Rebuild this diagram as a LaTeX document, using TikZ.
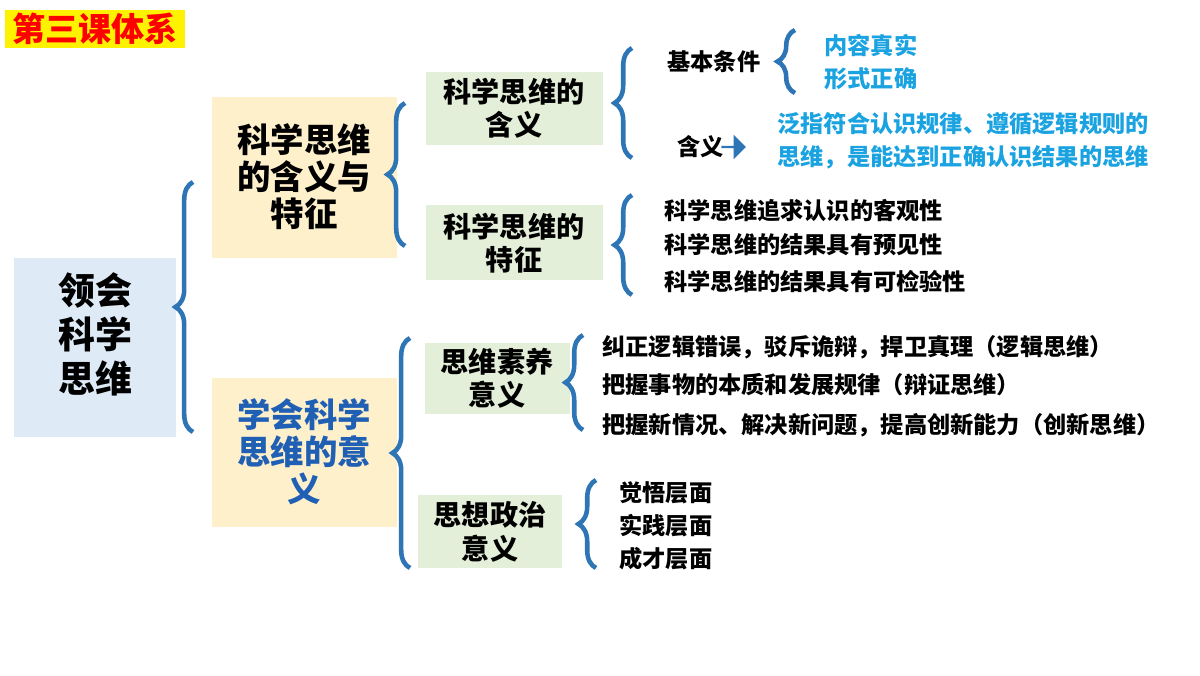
\documentclass[tikz,border=0pt]{standalone}
\usepackage{fontspec}
\setmainfont{Noto Sans CJK SC}
\usetikzlibrary{decorations.pathreplacing, shapes.arrows}
\definecolor{bracec}{HTML}{2E75B6}
\definecolor{cyanc}{HTML}{1AA3E0}
\definecolor{bluec}{HTML}{1F5FB4}
\definecolor{boxa}{HTML}{DEEAF6}
\definecolor{boxb}{HTML}{FDF0CB}
\definecolor{boxc}{HTML}{E4EFDA}
\tikzset{
  brace/.style={draw=bracec, line width=1.3pt, decorate,
    decoration={brace, amplitude=5pt}},
  bigtxt/.style={font=\bfseries\fontsize{10.5}{12.5}\selectfont, align=center},
  midtxt/.style={font=\bfseries\fontsize{9.5}{10.5}\selectfont, align=center},
  boxtxt/.style={font=\bfseries\fontsize{8}{9.5}\selectfont, align=center},
  item/.style={font=\bfseries\fontsize{6.6}{9.4}\selectfont, anchor=west, align=left},
}
\begin{document}
\begin{tikzpicture}[x=0.01cm, y=-0.01cm]
\useasboundingbox (0,0) rectangle (1200,675);
% title
\fill[yellow] (5,10) rectangle (185,48);
\node[font=\bfseries\fontsize{9.4}{10}\selectfont, text=red] (title) at (95,29) {第三课体系};
% boxes
\fill[boxa] (14,258) rectangle (176,437);
\node[bigtxt] (root) at (95,334) {领会\\科学\\思维};
\fill[boxb] (212,97) rectangle (397,258);
\node[midtxt] (feat) at (304,177) {科学思维\\的含义与\\特征};
\fill[boxb] (212,378) rectangle (397,527);
\node[midtxt, text=bluec] (mean) at (304,452) {学会科学\\思维的意\\义};
\fill[boxc] (426,72) rectangle (603,145);
\node[boxtxt] (hanyi) at (514,108) {科学思维的\\含义};
\fill[boxc] (426,205) rectangle (603,280);
\node[boxtxt] (tezheng) at (514,243) {科学思维的\\特征};
\fill[boxc] (425,343) rectangle (570,414);
\node[boxtxt] (suyang) at (497,378) {思维素养\\意义};
\fill[boxc] (418,495) rectangle (562,568);
\node[boxtxt] (zhengzhi) at (490,532) {思想政治\\意义};
% braces
\draw[brace] (193,432) -- (193,182);
\draw[brace] (405,246) -- (405,103);
\draw[brace] (410,568) -- (410,338);
\draw[brace] (632,158) -- (632,48);
\draw[brace] (632,295) -- (632,195);
\draw[brace] (795,93) -- (795,30);
\draw[brace] (583,430) -- (583,335);
\draw[brace] (596,568) -- (596,480);
% items
\node[item] (cond) at (655,62) {基本条件};
\node[item, text=cyanc] (real) at (812,62) {内容真实\\形式正确};
\node[item] (hy) at (665,147) {含义};
\node[single arrow, fill=bracec, minimum height=20pt*0.35, minimum width=7pt,
  single arrow head extend=2pt, inner sep=0pt] (arr) at (733,147) {};
\node[item, text=cyanc] (def) at (765,141) {泛指符合认识规律、遵循逻辑规则的\\思维，是能达到正确认识结果的思维};
\node[item] (t1) at (652,211) {科学思维追求认识的客观性};
\node[item] (t2) at (652,245) {科学思维的结果具有预见性};
\node[item] (t3) at (652,282) {科学思维的结果具有可检验性};
\node[item] (s1) at (590,347) {纠正逻辑错误，驳斥诡辩，捍卫真理（逻辑思维）};
\node[item] (s2) at (590,385) {把握事物的本质和发展规律（辩证思维）};
\node[item] (s3) at (590,425) {把握新情况、解决新问题，提高创新能力（创新思维）};
\node[item] (z1) at (607,493) {觉悟层面};
\node[item] (z2) at (607,526) {实践层面};
\node[item] (z3) at (607,559) {成才层面};
\end{tikzpicture}
\end{document}
